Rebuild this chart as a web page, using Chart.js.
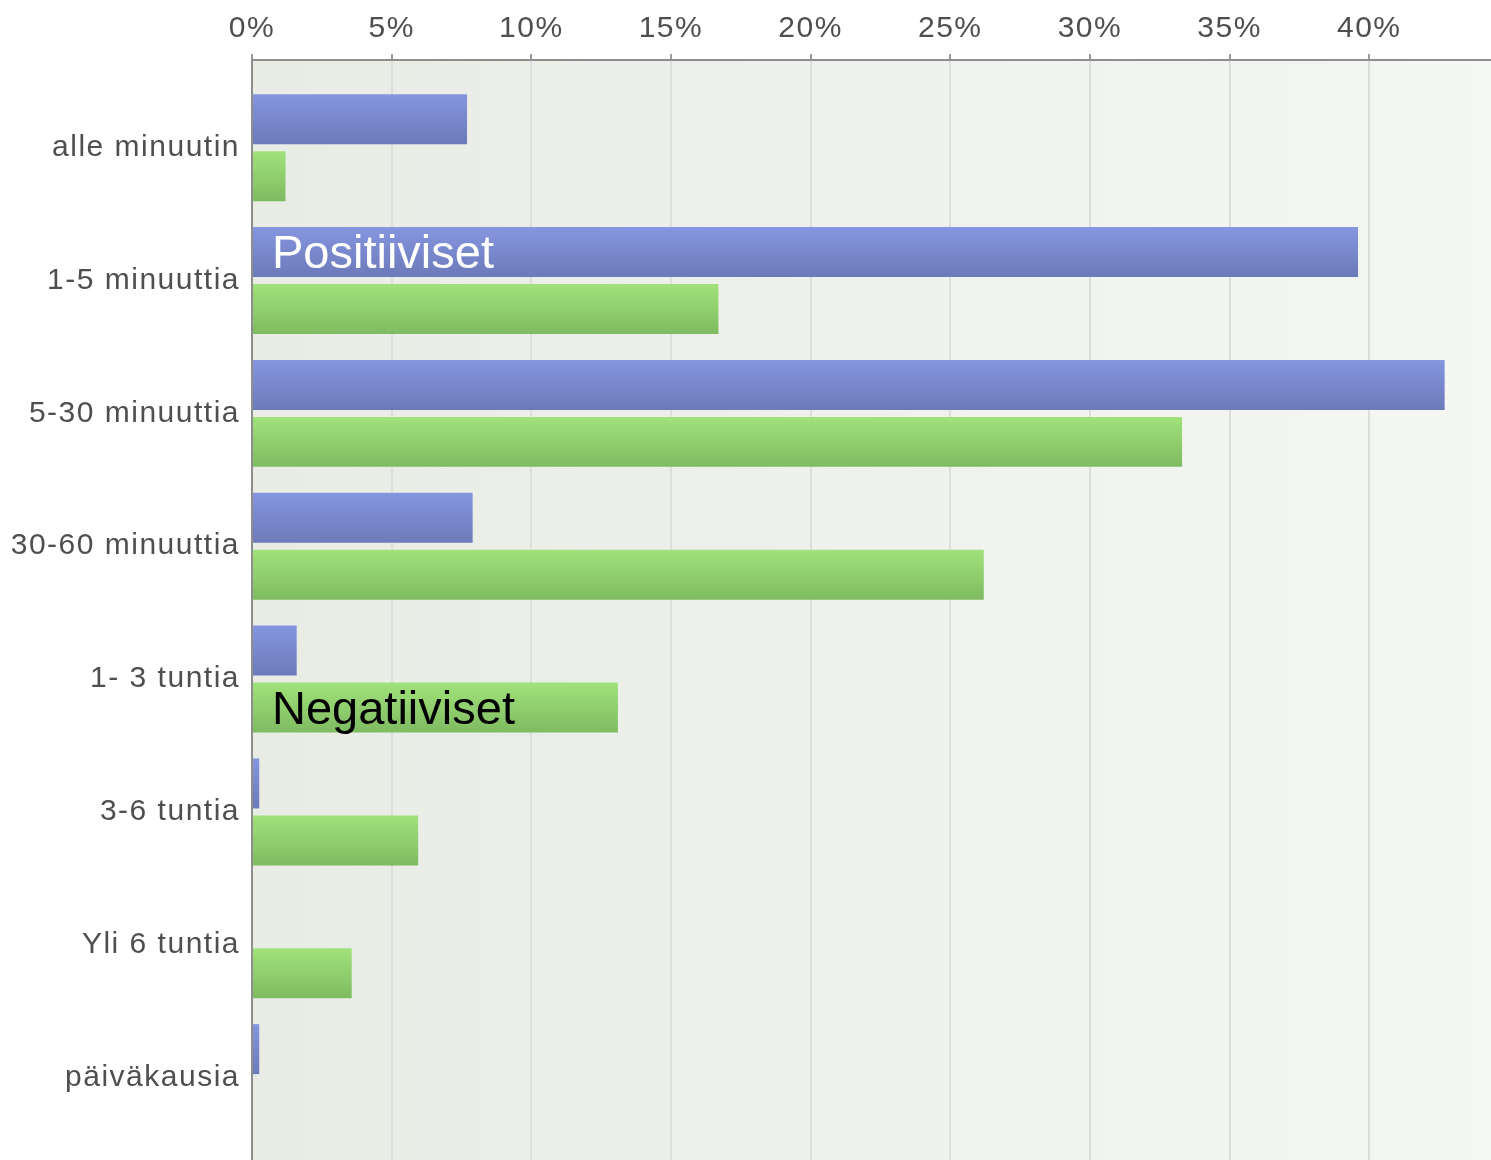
<!DOCTYPE html>
<html>
<head>
<meta charset="utf-8">
<script src="https://cdn.jsdelivr.net/npm/chart.js@4/dist/chart.umd.min.js"></script>
<style>
  html, body { margin: 0; padding: 0; background: #ffffff; overflow: hidden; }
  canvas { display: block; }
</style>
</head>
<body>
<canvas id="c" width="1491" height="1160"></canvas>
<script>
// Response time categories and the share (%) of each group
const categories = ['alle minuutin', '1-5 minuuttia', '5-30 minuuttia', '30-60 minuuttia',
                    '1- 3 tuntia', '3-6 tuntia', 'Yli 6 tuntia', 'päiväkausia'];
const seriesNames = ['Positiiviset', 'Negatiiviset'];
const positiiviset = [7.7, 39.6, 42.7, 7.9, 1.6, 0.26, 0, 0.26];
const negatiiviset = [1.2, 16.7, 33.3, 26.2, 13.1, 5.95, 3.57, 0];
const percentTicks = [0, 5, 10, 15, 20, 25, 30, 35, 40];

const CAT_PCT = 0.858;
const BAR_PCT = 0.877;
const Y_MIN = -0.66;
const Y_MAX = 7.62;
const FONT = '"Liberation Sans", Arial, sans-serif';

// vertical shading of each bar, from its light top edge to its darker bottom edge
function barFill(top, bottom) {
  return (c) => {
    const chart = c.chart;
    const ys = chart.scales && chart.scales.y;
    if (!chart.chartArea || !ys || c.dataIndex === undefined) return top;
    const unit = Math.abs(ys.getPixelForValue(1) - ys.getPixelForValue(0));
    const slot = unit * CAT_PCT / 2;
    const center = ys.getPixelForValue(c.dataIndex) + (c.datasetIndex - 0.5) * slot;
    const half = slot * BAR_PCT / 2;
    const g = chart.ctx.createLinearGradient(0, center - half, 0, center + half);
    g.addColorStop(0, top);
    g.addColorStop(1, bottom);
    return g;
  };
}

// plot background: soft left-to-right wash
const plotBackground = {
  id: 'plotBackground',
  beforeDraw(chart) {
    const { ctx, chartArea: a } = chart;
    const g = ctx.createLinearGradient(a.left, 0, a.right, 0);
    g.addColorStop(0, '#e8ece5');
    g.addColorStop(1, '#f5f7f3');
    ctx.save();
    ctx.fillStyle = g;
    ctx.fillRect(a.left, a.top, a.right - a.left, a.bottom - a.top);
    ctx.restore();
    ctx.letterSpacing = '1.5px';
  }
};

// series names written inside one bar of each series
const seriesTags = {
  id: 'seriesTags',
  afterDatasetsDraw(chart) {
    const ctx = chart.ctx;
    const tags = [
      { ds: 0, idx: 1, color: '#ffffff' },
      { ds: 1, idx: 4, color: '#000000' }
    ];
    ctx.save();
    ctx.letterSpacing = '0px';
    ctx.font = '47px ' + FONT;
    ctx.textAlign = 'left';
    ctx.textBaseline = 'alphabetic';
    tags.forEach(t => {
      const el = chart.getDatasetMeta(t.ds).data[t.idx];
      const p = el.getProps(['y', 'base'], true);
      ctx.fillStyle = t.color;
      ctx.fillText(chart.data.datasets[t.ds].label, p.base + 19, p.y + 16);
    });
    ctx.restore();
  }
};

const toPoints = arr => arr.map((v, i) => ({ x: v, y: i }));

new Chart(document.getElementById('c'), {
  type: 'bar',
  data: {
    datasets: [
      {
        label: seriesNames[0],
        data: toPoints(positiiviset),
        backgroundColor: barFill('#8696df', '#6c7ab9'),
        borderWidth: 0
      },
      {
        label: seriesNames[1],
        data: toPoints(negatiiviset),
        backgroundColor: barFill('#a1e27b', '#7fbb61'),
        borderWidth: 0
      }
    ]
  },
  options: {
    indexAxis: 'y',
    responsive: false,
    animation: false,
    events: [],
    devicePixelRatio: 1,
    categoryPercentage: CAT_PCT,
    barPercentage: BAR_PCT,
    layout: { padding: 0 },
    plugins: {
      legend: { display: false },
      tooltip: { enabled: false },
      title: { display: false }
    },
    scales: {
      x: {
        type: 'linear',
        position: 'top',
        min: 0,
        max: 44.36,
        afterBuildTicks: s => { s.ticks = percentTicks.map(v => ({ value: v })); },
        afterFit: s => {
          s.height = 60;
          s.paddingLeft = 0; s.paddingRight = 0;
        },
        ticks: {
          callback: v => v + '%',
          color: '#4f4f4f',
          font: { family: FONT, size: 30 },
          padding: 7,
          maxRotation: 0
        },
        grid: {
          color: '#dcdfda',
          lineWidth: 2,
          tickColor: '#9a9a9a',
          tickLength: 6,
          drawTicks: true
        },
        border: { display: true, color: '#8e8e8e', width: 2 }
      },
      y: {
        type: 'linear',
        reverse: true,
        offset: false,
        min: Y_MIN,
        max: Y_MAX,
        afterDataLimits: s => { s.min = Y_MIN; s.max = Y_MAX; },
        afterBuildTicks: s => { s.ticks = categories.map((_, i) => ({ value: i })); },
        afterFit: s => {
          s.width = 252;
          s.paddingTop = 0; s.paddingBottom = 0;
        },
        ticks: {
          callback: v => categories[v],
          color: '#4f4f4f',
          font: { family: FONT, size: 30 },
          padding: 12
        },
        grid: { display: false, offset: false, drawTicks: false, tickLength: 0 },
        border: { display: true, color: '#8e8e8e', width: 2 }
      }
    }
  },
  plugins: [plotBackground, seriesTags]
});
</script>
</body>
</html>
